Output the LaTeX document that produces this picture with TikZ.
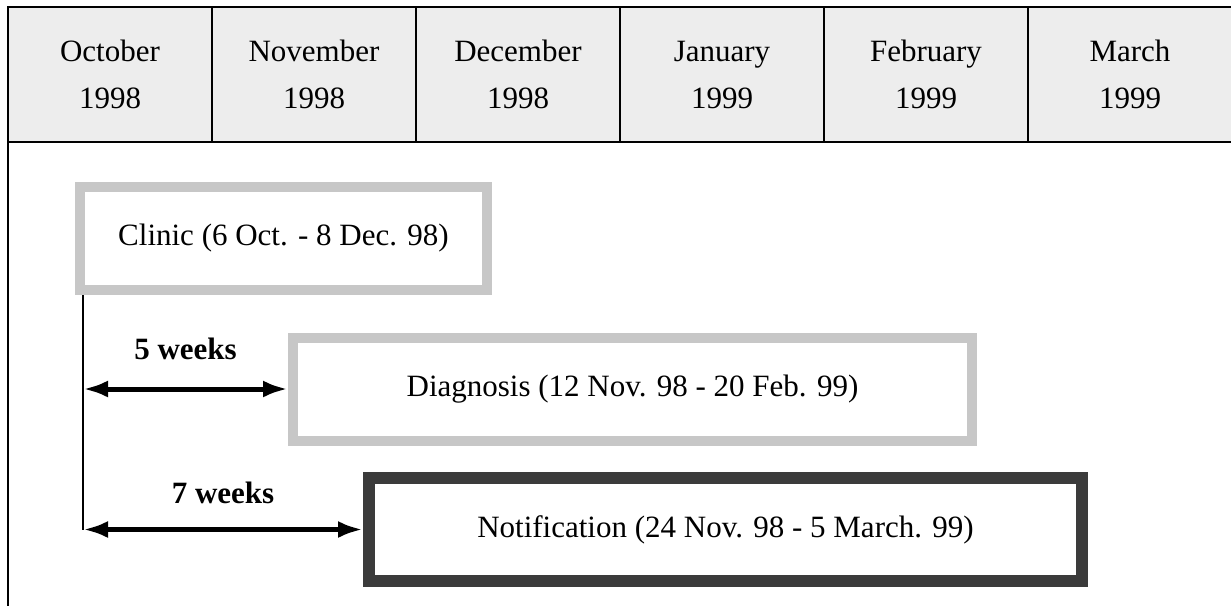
\documentclass[tikz,border=0pt]{standalone}
\usepackage{fontspec}
\setmainfont{Liberation Serif}
\usetikzlibrary{arrows.meta,positioning,calc}
\tikzstyle{month}=[draw,line width=1.4pt,fill=black!7,minimum width=204pt,minimum height=135pt,inner sep=0pt,outer sep=0pt,align=center,font=\fontsize{31}{47}\selectfont]
\tikzstyle{phase}=[draw,line width=10pt,fill=white,minimum height=103pt,inner sep=0pt,font=\fontsize{31}{37}\selectfont]
\tikzstyle{light}=[draw=black!22]
\tikzstyle{dark}=[draw=black!77,line width=12pt]
\tikzstyle{span}=[line width=5pt,{Latex[length=25pt,width=17pt]}-{Latex[length=25pt,width=17pt]}]
\tikzstyle{gap}=[midway,anchor=base,inner sep=0pt,font=\fontsize{31}{37}\selectfont\bfseries]

\begin{document}
\begin{tikzpicture}[x=1pt,y=-1pt]
\useasboundingbox (0,0) rectangle (1231,606);
% month header
\node [month] (oct) at (110,74.5) {October\\1998};
\node [month,right=0pt of oct] (nov) {November\\1998};
\node [month,right=0pt of nov] (dec) {December\\1998};
\node [month,right=0pt of dec] (jan) {January\\1999};
\node [month,right=0pt of jan] (feb) {February\\1999};
\node [month,right=0pt of feb] (mar) {March\\1999};
% left rule of the body
\coordinate (foot) at (8,606);
\draw [line width=1.4pt] (oct.south west) -- (foot);
% phases
\node [phase,light,minimum width=407pt] (clinic) at (283.5,238.5) {Clinic (6 Oct. - 8 Dec. 98)};
\node [phase,light,minimum width=679pt] (diag) at (632.5,389) {Diagnosis (12 Nov. 98 - 20 Feb. 99)};
\node [phase,dark,minimum width=713pt] (notif) at (725.5,529.5) {Notification (24 Nov. 98 - 5 March. 99)};
% delays
\coordinate (start) at ([xshift=8pt]clinic.south west);
\draw [line width=1.4pt] (start) -- (start |- notif.west);
\draw [span] (start |- diag.west) -- (diag.west) node [gap,yshift=30pt] {5 weeks};
\draw [span] (start |- notif.west) -- (notif.west) node [gap,yshift=26pt] {7 weeks};
\end{tikzpicture}
\end{document}
